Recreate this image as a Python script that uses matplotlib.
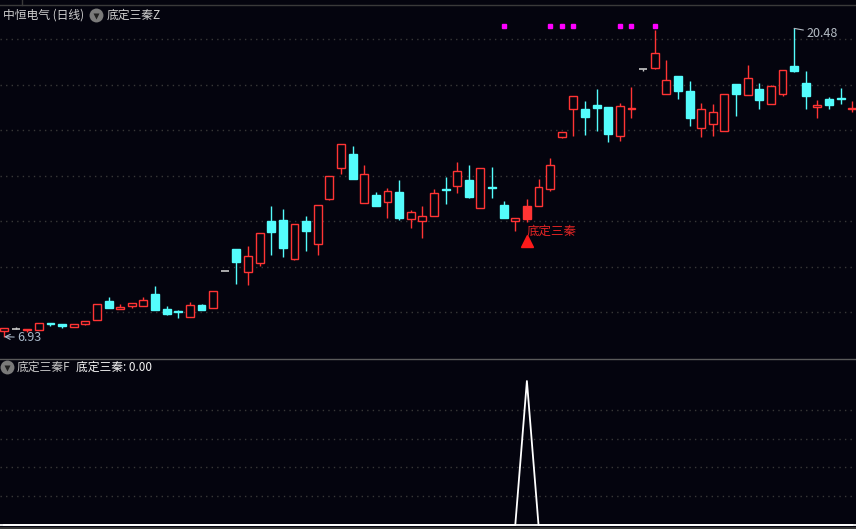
import matplotlib
matplotlib.use('Agg')
import matplotlib.pyplot as plt
from matplotlib.transforms import offset_copy

plt.rcParams['font.family'] = ['Noto Sans CJK SC', 'DejaVu Sans']

# daily OHLC of 中恒电气
opens = [7.19, 7.25, 7.22, 7.24, 7.53, 7.49, 7.37, 7.47, 7.68, 8.50,
         8.16, 8.29, 8.29, 8.82, 8.15, 8.04, 7.81, 8.32, 8.18, 9.80,
         10.78, 9.76, 10.18, 12.01, 12.06, 10.36, 12.01, 10.99, 12.99, 14.33,
         14.96, 12.79, 13.16, 12.84, 13.29, 12.11, 12.03, 12.25, 13.40, 13.54,
         13.80, 12.60, 13.50, 12.72, 12.03, 12.11, 12.66, 13.41, 15.72, 16.95,
         16.94, 17.11, 17.02, 15.76, 16.95, 18.68, 18.75, 17.61, 18.39, 17.72,
         16.12, 16.29, 15.99, 18.03, 17.57, 17.80, 17.14, 17.58, 18.82, 18.08,
         17.01, 17.36, 17.40, 16.92]
highs = [7.30, 7.34, 7.28, 7.52, 7.53, 7.49, 7.47, 7.62, 8.37, 8.67,
         8.35, 8.41, 8.67, 9.16, 8.28, 8.11, 8.45, 8.36, 8.94, 9.80,
         10.78, 10.91, 11.47, 12.67, 12.54, 11.87, 12.23, 12.70, 13.98, 15.38,
         15.31, 14.47, 13.29, 13.46, 13.82, 12.50, 12.67, 13.42, 13.95, 14.61,
         14.47, 14.33, 14.38, 12.89, 12.15, 12.98, 13.86, 14.78, 15.91, 17.49,
         17.29, 17.82, 17.02, 17.19, 17.90, 18.68, 20.41, 19.09, 18.39, 18.17,
         17.19, 17.16, 17.59, 18.03, 18.87, 18.08, 17.98, 18.64, 20.48, 18.61,
         17.33, 17.46, 17.86, 17.29]
lows = [6.93, 7.25, 7.15, 7.24, 7.40, 7.32, 7.34, 7.43, 7.68, 8.18,
        8.16, 8.20, 8.29, 8.10, 7.89, 7.76, 7.81, 8.11, 8.18, 9.80,
        9.26, 9.20, 10.05, 10.52, 10.44, 10.29, 10.71, 10.53, 12.94, 14.07,
        13.87, 12.79, 12.69, 12.16, 12.07, 11.71, 11.27, 12.25, 12.77, 13.26,
        13.04, 12.60, 13.04, 12.16, 11.59, 11.96, 12.66, 13.33, 15.67, 15.75,
        15.79, 15.98, 15.50, 15.54, 16.55, 18.62, 18.71, 17.61, 17.39, 16.20,
        15.72, 15.76, 15.99, 16.64, 17.57, 16.95, 17.14, 17.52, 18.55, 16.92,
        16.55, 16.95, 17.17, 16.82]
closes = [7.30, 7.25, 7.27, 7.52, 7.50, 7.40, 7.47, 7.62, 8.37, 8.20,
          8.23, 8.41, 8.54, 8.10, 7.94, 8.02, 8.31, 8.11, 8.94, 9.80,
          10.22, 10.47, 11.47, 11.54, 10.84, 11.87, 11.59, 12.70, 13.98, 15.38,
          13.87, 14.07, 12.69, 13.32, 12.15, 12.40, 12.22, 13.25, 13.36, 14.20,
          13.08, 14.33, 13.47, 12.16, 12.15, 12.67, 13.49, 14.47, 15.91, 17.49,
          16.59, 16.99, 15.85, 17.05, 16.98, 18.68, 19.40, 18.20, 17.74, 16.56,
          16.92, 16.79, 17.59, 17.61, 18.29, 17.35, 17.93, 18.64, 18.62, 17.52,
          17.10, 17.13, 17.38, 16.97]

# 底定三秦 indicator (lower panel)
signal = [0, 0, 0, 0, 0, 0, 0, 0, 0, 0,
          0, 0, 0, 0, 0, 0, 0, 0, 0, 0,
          0, 0, 0, 0, 0, 0, 0, 0, 0, 0,
          0, 0, 0, 0, 0, 0, 0, 0, 0, 0,
          0, 0, 0, 0, 0, 1, 0, 0, 0, 0,
          0, 0, 0, 0, 0, 0, 0, 0, 0, 0,
          0, 0, 0, 0, 0, 0, 0, 0, 0, 0,
          0, 0, 0, 0]
# days with the magenta marker on top
dot_days = [43, 47, 48, 49, 53, 54, 56]

BG = '#04040e'
RED = '#ff3434'
CYAN = '#54fcfc'
GRAY = '#c8c8c8'
GRID = '#383838'

W, H = 856, 529
fig = plt.figure(figsize=(W / 100, H / 100), dpi=100, facecolor=BG)

xl = (-4 / 11.62, (W - 4) / 11.62)

# price panel: pixel rows 18..358
ax = fig.add_axes([0, 1 - 358 / H, 1, 340 / H], facecolor=BG)
ax.set_xlim(*xl)
ax.set_ylim(5.991, 20.936)
ax.axis('off')
for g in [8, 10, 12, 14, 16, 18, 20]:
    ax.axhline(g, color=GRID, lw=1, ls=(0, (1, 3)), zorder=0)

n = len(opens)
bw = 0.68
for i in range(n):
    o, h, l, c = opens[i], highs[i], lows[i], closes[i]
    if c > o:
        col = RED
    elif c < o:
        col = CYAN
    else:
        col = GRAY
    ax.vlines(i, l, h, color=col, lw=1, zorder=2)
    if c == o:
        ax.hlines(o, i - bw / 2, i + bw / 2, color=col, lw=1.2, zorder=3)
        continue
    if col == RED:
        face = RED if signal[i] else BG
    else:
        face = CYAN
    ax.bar(i, abs(c - o), bottom=min(o, c), width=bw, facecolor=face,
           edgecolor=col, lw=1, zorder=3)

# top markers
ax.plot(dot_days, [20.58] * len(dot_days), ls='none', marker='s',
        ms=3, color='#ff00ff', zorder=4)

# signal label under the signal day
for i in range(n):
    if signal[i]:
        tri = offset_copy(ax.transData, fig=fig, x=0, y=-19, units='dots')
        ax.plot(i, lows[i], marker='^', ms=9, color='#ff1a1a', transform=tri,
                zorder=5)
        txt = offset_copy(ax.transData, fig=fig, x=0, y=-9.5, units='dots')
        ax.text(i, lows[i], '底定三秦', color='#e02424', fontsize=9,
                ha='left', va='center', transform=txt, zorder=5)

# high / low labels
hi = highs.index(max(highs))
lo = lows.index(min(lows))
ax.annotate(f'{highs[hi]:.2f}', xy=(hi, highs[hi]), xytext=(12, -5),
            textcoords='offset pixels', color='#b4bcc4', fontsize=9,
            va='center', ha='left',
            arrowprops=dict(arrowstyle='-', color='#b4bcc4', lw=0.8,
                            shrinkA=0, shrinkB=0))
ax.annotate(f'{lows[lo]:.2f}', xy=(lo, lows[lo]), xytext=(13, -1),
            textcoords='offset pixels', color='#a8b8c8', fontsize=9,
            va='center', ha='left',
            arrowprops=dict(arrowstyle='->', color='#a8b8c8', lw=0.8,
                            shrinkA=0, shrinkB=0))

# indicator panel: pixel rows 360..529
ax2 = fig.add_axes([0, 0, 1, 169 / H], facecolor=BG)
ax2.set_xlim(*xl)
ax2.set_ylim(-4 / 144, 165 / 144)
ax2.axis('off')
for g in [0.2, 0.4, 0.6, 0.8]:
    ax2.axhline(g, color=GRID, lw=1, ls=(0, (1, 3)), zorder=0)
ax2.axhline(0, color='white', lw=1.3, zorder=2)
ax2.plot(range(n), signal, color='white', lw=1.3, zorder=3)

# overlay for headers and borders
ov = fig.add_axes([0, 0, 1, 1])
ov.patch.set_alpha(0)
ov.set_xlim(0, W)
ov.set_ylim(H, 0)
ov.axis('off')
ov.plot([0, W], [5, 5], color='#3a3a3a', lw=1)
ov.plot([22, 22], [0, 5], color='#3a3a3a', lw=1)
ov.plot([0, W], [359, 359], color='#5a5a5a', lw=1)
ov.plot([0, W], [528, 528], color='#3a3a3a', lw=2)

ov.text(3, 15, '中恒电气 (日线)', color='#d0d0d0', fontsize=8.5, va='center')
ov.plot(96, 15, marker='o', ms=10, color='#7a7a7a', mec='none')
ov.plot(96, 15.5, marker='v', ms=4, color='#202020', mec='none')
ov.text(107, 15, '底定三秦Z', color='#d0d0d0', fontsize=8.5, va='center')

ov.plot(7, 367, marker='o', ms=10, color='#7a7a7a', mec='none')
ov.plot(7, 367.5, marker='v', ms=4, color='#202020', mec='none')
ov.text(17, 367, '底定三秦F', color='#c8c8c8', fontsize=8.5, va='center')
ov.text(76, 367, '底定三秦: 0.00', color='#f4f4f4', fontsize=8.5, va='center')

fig.savefig('out.png', dpi=100, facecolor=BG)
